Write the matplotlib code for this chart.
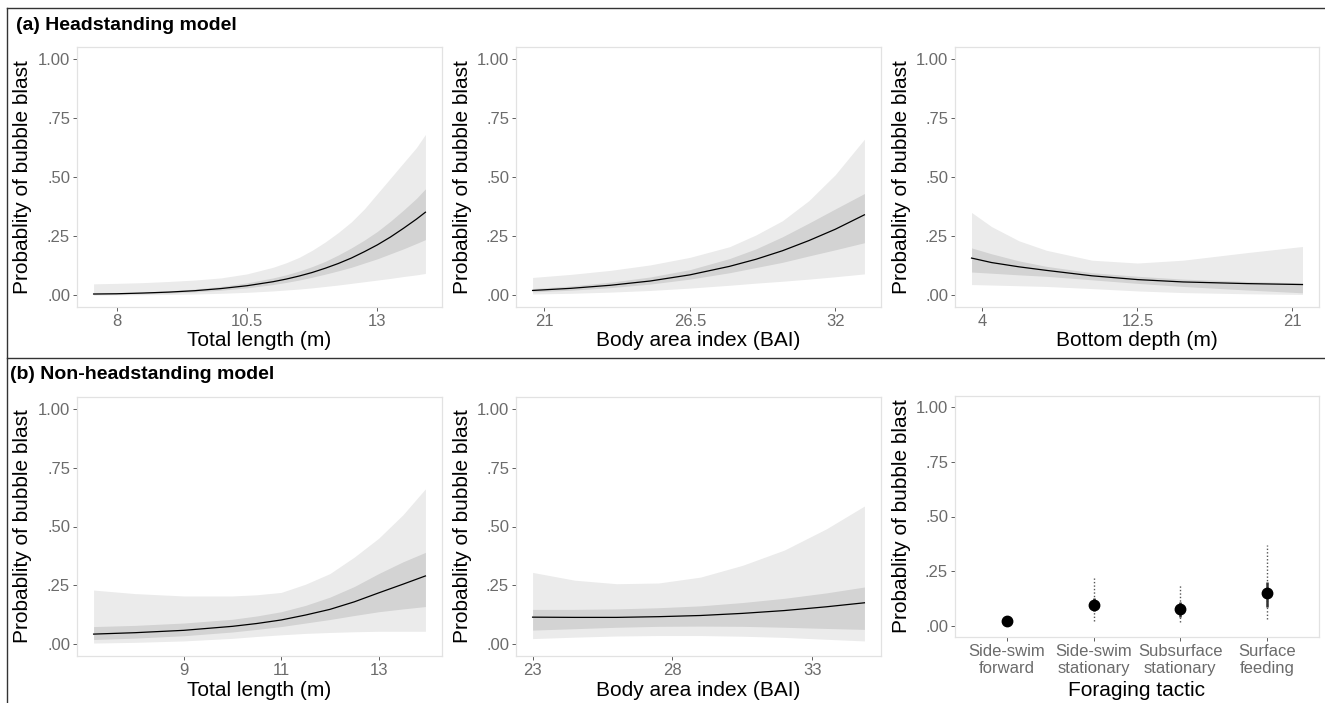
import matplotlib
matplotlib.use("Agg")
import matplotlib.pyplot as plt
from matplotlib.lines import Line2D

plt.rcParams['font.family'] = ['Liberation Sans', 'DejaVu Sans']

# ---- data ----
# (a) headstanding model
a1_x = [7.56, 8.0, 8.5, 9.0, 9.5, 10.0, 10.5, 11.0, 11.25, 11.5, 11.75, 12.0, 12.25, 12.5, 12.75,
        13.0, 13.25, 13.5, 13.75, 13.92]
a1_fit = [0.005, 0.006, 0.009, 0.013, 0.019, 0.028, 0.040, 0.057, 0.068, 0.081, 0.096, 0.114, 0.134,
          0.157, 0.184, 0.213, 0.246, 0.283, 0.322, 0.351]
a1_in_lo = [0.003, 0.004, 0.006, 0.009, 0.014, 0.021, 0.031, 0.045, 0.054, 0.064, 0.076, 0.089, 0.103,
            0.118, 0.136, 0.154, 0.175, 0.196, 0.219, 0.235]
a1_in_hi = [0.008, 0.009, 0.013, 0.018, 0.026, 0.037, 0.052, 0.073, 0.086, 0.102, 0.121, 0.143, 0.170,
            0.200, 0.233, 0.270, 0.313, 0.360, 0.410, 0.450]
a1_out_lo = [0.000, 0.001, 0.002, 0.003, 0.005, 0.008, 0.012, 0.018, 0.022, 0.026, 0.031, 0.037, 0.043,
             0.050, 0.057, 0.064, 0.071, 0.079, 0.086, 0.092]
a1_out_hi = [0.048, 0.050, 0.053, 0.058, 0.064, 0.073, 0.090, 0.118, 0.137, 0.160, 0.190, 0.225, 0.265,
             0.310, 0.365, 0.430, 0.495, 0.560, 0.625, 0.680]

a2_x = [20.55, 22.0, 23.5, 25.0, 26.5, 28.0, 29.0, 30.0, 31.0, 32.0, 33.1]
a2_fit = [0.020, 0.029, 0.042, 0.060, 0.086, 0.122, 0.152, 0.188, 0.231, 0.279, 0.340]
a2_in_lo = [0.014, 0.021, 0.032, 0.047, 0.068, 0.095, 0.117, 0.139, 0.166, 0.192, 0.222]
a2_in_hi = [0.028, 0.039, 0.055, 0.077, 0.108, 0.155, 0.196, 0.247, 0.305, 0.365, 0.430]
a2_out_lo = [0.005, 0.008, 0.013, 0.020, 0.030, 0.042, 0.051, 0.059, 0.068, 0.078, 0.090]
a2_out_hi = [0.075, 0.088, 0.105, 0.128, 0.160, 0.205, 0.255, 0.315, 0.400, 0.510, 0.660]

a3_x = [3.4, 4.5, 6.0, 7.5, 10.0, 12.5, 15.0, 18.5, 21.55]
a3_fit = [0.157, 0.138, 0.120, 0.105, 0.082, 0.066, 0.056, 0.049, 0.045]
a3_in_lo = [0.098, 0.093, 0.086, 0.080, 0.065, 0.050, 0.037, 0.022, 0.010]
a3_in_hi = [0.200, 0.175, 0.145, 0.122, 0.095, 0.080, 0.068, 0.058, 0.052]
a3_out_lo = [0.045, 0.043, 0.040, 0.037, 0.028, 0.018, 0.011, 0.006, 0.003]
a3_out_hi = [0.350, 0.290, 0.230, 0.190, 0.148, 0.136, 0.148, 0.180, 0.206]

# (b) non-headstanding model
b1_x = [7.15, 8.0, 9.0, 10.0, 10.5, 11.0, 11.5, 12.0, 12.5, 13.0, 13.5, 13.96]
b1_fit = [0.043, 0.049, 0.059, 0.076, 0.088, 0.103, 0.124, 0.148, 0.180, 0.218, 0.255, 0.290]
b1_in_lo = [0.020, 0.026, 0.036, 0.052, 0.063, 0.075, 0.090, 0.105, 0.122, 0.138, 0.150, 0.160]
b1_in_hi = [0.075, 0.080, 0.090, 0.106, 0.120, 0.138, 0.165, 0.200, 0.245, 0.300, 0.350, 0.390]
b1_out_lo = [0.005, 0.008, 0.014, 0.025, 0.033, 0.040, 0.046, 0.050, 0.053, 0.055, 0.055, 0.055]
b1_out_hi = [0.230, 0.215, 0.205, 0.205, 0.210, 0.220, 0.255, 0.300, 0.370, 0.450, 0.550, 0.660]

b2_x = [23.0, 24.5, 26.0, 27.5, 29.0, 30.5, 32.0, 33.5, 34.86]
b2_fit = [0.115, 0.114, 0.114, 0.117, 0.122, 0.131, 0.143, 0.159, 0.176]
b2_in_lo = [0.060, 0.066, 0.072, 0.076, 0.077, 0.076, 0.072, 0.067, 0.063]
b2_in_hi = [0.148, 0.148, 0.150, 0.155, 0.163, 0.177, 0.195, 0.218, 0.243]
b2_out_lo = [0.024, 0.030, 0.035, 0.037, 0.037, 0.034, 0.029, 0.021, 0.014]
b2_out_hi = [0.305, 0.272, 0.257, 0.260, 0.285, 0.335, 0.400, 0.490, 0.587]

tactics = ['Side-swim\nforward', 'Side-swim\nstationary', 'Subsurface\nstationary', 'Surface\nfeeding']
b3_fit = [0.023, 0.098, 0.076, 0.152]
b3_in_lo = [0.015, 0.070, 0.040, 0.086]
b3_in_hi = [0.033, 0.130, 0.108, 0.200]
b3_out_lo = [0.008, 0.024, 0.017, 0.030]
b3_out_hi = [0.055, 0.220, 0.190, 0.370]

y_ticks = [0, 0.25, 0.5, 0.75, 1.0]
y_labels = ['.00', '.25', '.50', '.75', '1.00']
ylab = 'Probablity of bubble blast'

W, H = 1325, 703
fig = plt.figure(figsize=(W / 100, H / 100), dpi=100)

LIGHT = '#ebebeb'
DARK = '#d3d3d3'
TICK_COL = '#6b6b6b'


def add_ax(left, top, right, bottom):
    return fig.add_axes([left / W, 1 - bottom / H, (right - left) / W, (bottom - top) / H])


def style(ax):
    for s in ax.spines.values():
        s.set_color('#e2e2e2')
        s.set_linewidth(0.9)
    ax.set_ylim(-0.05, 1.05)
    ax.set_yticks(y_ticks)
    ax.set_yticklabels(y_labels)
    ax.tick_params(axis='both', length=3, width=0.6, color='#444444', pad=2,
                   labelcolor=TICK_COL, labelsize=12)


def labels(left, top, right, bottom, xlabel, xlab_y):
    fig.text((left - 54) / W, 1 - (top + bottom) / 2 / H, ylab, rotation=90,
             ha='center', va='center', fontsize=15)
    fig.text((left + right) / 2 / W, 1 - xlab_y / H, xlabel, ha='center',
             va='center', fontsize=15)


def curve_panel(box, x, fit, in_lo, in_hi, out_lo, out_hi, ticks, tick_labels, xlabel, xlab_y):
    ax = add_ax(*box)
    ax.fill_between(x, out_lo, out_hi, color=LIGHT, lw=0)
    ax.fill_between(x, in_lo, in_hi, color=DARK, lw=0)
    ax.plot(x, fit, color='black', lw=0.9)
    pad = 0.05 * (max(x) - min(x))
    ax.set_xlim(min(x) - pad, max(x) + pad)
    ax.set_xticks(ticks)
    ax.set_xticklabels(tick_labels)
    style(ax)
    labels(*box, xlabel, xlab_y)
    return ax


# row (a)
curve_panel((77, 47, 442, 307), a1_x, a1_fit, a1_in_lo, a1_in_hi, a1_out_lo, a1_out_hi,
            [8, 10.5, 13], ['8', '10.5', '13'], 'Total length (m)', 340)
curve_panel((516, 47, 881, 307), a2_x, a2_fit, a2_in_lo, a2_in_hi, a2_out_lo, a2_out_hi,
            [21, 26.5, 32], ['21', '26.5', '32'], 'Body area index (BAI)', 340)
curve_panel((955, 47, 1319, 307), a3_x, a3_fit, a3_in_lo, a3_in_hi, a3_out_lo, a3_out_hi,
            [4, 12.5, 21], ['4', '12.5', '21'], 'Bottom depth (m)', 340)

# row (b)
curve_panel((77, 397, 442, 656), b1_x, b1_fit, b1_in_lo, b1_in_hi, b1_out_lo, b1_out_hi,
            [9, 11, 13], ['9', '11', '13'], 'Total length (m)', 690)
curve_panel((516, 397, 881, 656), b2_x, b2_fit, b2_in_lo, b2_in_hi, b2_out_lo, b2_out_hi,
            [23, 28, 33], ['23', '28', '33'], 'Body area index (BAI)', 690)

box = (955, 396, 1319, 637)
ax = add_ax(*box)
pos = list(range(1, len(tactics) + 1))
ax.vlines(pos, b3_out_lo, b3_out_hi, colors='#555555', linestyles=(0, (1, 1.5)), lw=1)
ax.vlines(pos, b3_in_lo, b3_in_hi, colors='#333333', lw=1.8)
ax.plot(pos, b3_fit, 'o', color='black', ms=7.5)
ax.set_xlim(0.4, 4.6)
ax.set_xticks(pos)
ax.set_xticklabels(tactics, linespacing=1.15)
style(ax)
labels(*box, 'Foraging tactic', 690)

# panel titles and frame lines
fig.text(16 / W, 1 - 25 / H, '(a) Headstanding model', fontsize=14, fontweight='bold',
         ha='left', va='center')
fig.text(10 / W, 1 - 375 / H, '(b) Non-headstanding model', fontsize=14, fontweight='bold',
         ha='left', va='center')
for (x0, y0, x1, y1) in [(7, 8, W, 8), (7, 358, W, 358), (7, 8, 7, H)]:
    fig.add_artist(Line2D([x0 / W, x1 / W], [1 - y0 / H, 1 - y1 / H], color='#333333', lw=1))

fig.savefig('out.png', dpi=100)
